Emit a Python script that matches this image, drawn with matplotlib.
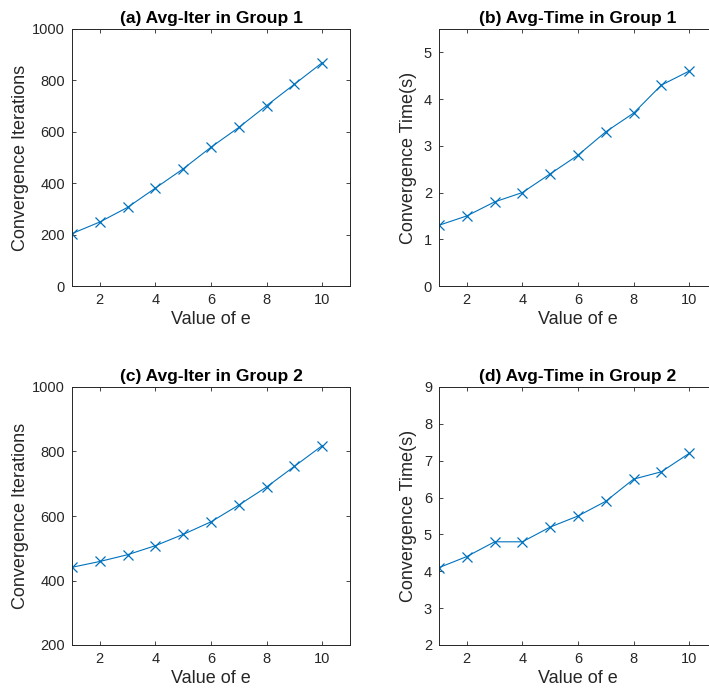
import matplotlib
matplotlib.use("Agg")
import matplotlib.pyplot as plt

plt.rcParams['font.family'] = ['Liberation Sans', 'DejaVu Sans']

e_values = [1, 2, 3, 4, 5, 6, 7, 8, 9, 10]
iter_group1 = [204, 249, 306, 381, 456, 540, 617, 702, 785, 869]
time_group1 = [1.3, 1.5, 1.8, 2.0, 2.4, 2.8, 3.3, 3.7, 4.3, 4.6]
iter_group2 = [441, 459, 480, 508, 543, 582, 634, 690, 754, 818]
time_group2 = [4.1, 4.4, 4.8, 4.8, 5.2, 5.5, 5.9, 6.5, 6.7, 7.2]

titles = ["(a) Avg-Iter in Group 1", "(b) Avg-Time in Group 1",
          "(c) Avg-Iter in Group 2", "(d) Avg-Time in Group 2"]
ylabels = ["Convergence Iterations", "Convergence Time(s)",
           "Convergence Iterations", "Convergence Time(s)"]
series = [iter_group1, time_group1, iter_group2, time_group2]
ylims = [(0, 1000), (0, 5.5), (200, 1000), (2, 9)]
yticks = [[0, 200, 400, 600, 800, 1000], [0, 1, 2, 3, 4, 5],
          [200, 400, 600, 800, 1000], [2, 3, 4, 5, 6, 7, 8, 9]]
xticks = [2, 4, 6, 8, 10]

W, H = 709, 694
fig = plt.figure(figsize=(W / 100, H / 100), dpi=100)

# axes boxes in pixel coords: left, top, right, bottom
boxes = [(72, 29, 350, 286), (439, 29, 717, 286),
         (72, 387, 350, 645), (439, 387, 717, 645)]
ylabelpads = [2, 5, 2, 5]

color = '#0072BD'
dark = '#262626'
for i in range(4):
    l, t, r, b = boxes[i]
    ax = fig.add_axes([l / W, 1 - b / H, (r - l) / W, (b - t) / H])
    ax.plot(e_values, series[i], color=color, lw=0.8, marker='x',
            markersize=6.5, markeredgewidth=0.9)
    ax.set_xlim(1, 11)
    ax.set_ylim(*ylims[i])
    ax.set_xticks(xticks)
    ax.set_yticks(yticks[i])
    ax.tick_params(direction='in', top=True, right=True, length=3,
                   width=0.6, colors=dark, labelsize=10.5, pad=5)
    for s in ax.spines.values():
        s.set_color(dark)
        s.set_linewidth(0.7)
    ax.set_title(titles[i], fontsize=12.5, fontweight='bold', pad=4, color='black')
    ax.set_xlabel("Value of e", fontsize=13, color=dark, labelpad=3)
    ax.set_ylabel(ylabels[i], fontsize=13, color=dark, labelpad=ylabelpads[i])

fig.savefig("out.png", dpi=100)
